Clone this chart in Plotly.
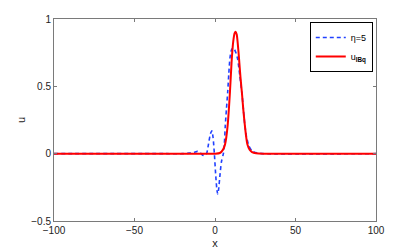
import plotly.graph_objects as go

# Values
x_blue = [-100, -30, -20, -16, -13, -10.9, -9.2, -8, -6.8, -5.8, -5.2, -4.2, -3.0, -2.0,
          -1.2, -0.4, 0.5, 1.2, 1.7, 2.3, 3.0, 4.0, 5.2, 5.8, 6.4, 7.1, 7.9, 8.6, 9.3,
          10.2, 11.1, 12.0, 13.0, 14.1, 15.4, 16.8, 17.7, 18.5, 19.5, 21.0, 23.0, 26.0, 30.0, 100]
y_blue = [0, 0, 0, 0.004, 0.01, 0.017, 0.006, -0.008, -0.013, -0.006, 0.0, 0.06, 0.14, 0.17,
          0.12, 0.0, -0.17, -0.27, -0.30, -0.26, -0.17, -0.06, 0.0, 0.07, 0.21, 0.33, 0.46, 0.60, 0.71,
          0.77, 0.785, 0.775, 0.75, 0.70, 0.58, 0.44, 0.32, 0.215, 0.13, 0.06, 0.02, 0.006, 0.0, 0]

x_red = [-100, -10, 0, 3, 5, 6.2, 7, 7.9, 9.3, 10.3, 11.3, 12.2, 12.8, 13.5, 14.2, 14.9,
         15.8, 16.8, 17.7, 18.5, 19.3, 20.1, 21.5, 23.0, 25.5, 30, 100]
y_red = [0, 0, 0, 0.005, 0.03, 0.067, 0.12, 0.215, 0.46, 0.68, 0.83, 0.895, 0.905, 0.885, 0.81, 0.71,
         0.57, 0.44, 0.31, 0.215, 0.13, 0.07, 0.03, 0.012, 0.003, 0, 0]

x_ticks = [-100, -50, 0, 50, 100]
y_ticks = [-0.5, 0, 0.5, 1]

FONT = "Liberation Sans, Arial"

fig = go.Figure()
fig.add_trace(go.Scatter(x=x_blue, y=y_blue, mode="lines", name="η=5",
                         line=dict(color="#2040ff", width=1.6, dash="4px,3px", shape="spline", smoothing=0.6)))
fig.add_trace(go.Scatter(x=x_red, y=y_red, mode="lines", name="u<sub><b>IBq</b></sub>",
                         line=dict(color="#ff0000", width=2, shape="spline", smoothing=0.6)))

axis_common = dict(showgrid=False, zeroline=False, showline=True, linecolor="#7a7a7a", linewidth=1,
                   mirror="ticks", ticks="inside", ticklen=3, tickcolor="#7a7a7a", automargin=False,
                   tickfont=dict(family=FONT, size=10, color="#222"))
fig.update_xaxes(range=[-100, 100], tickvals=x_ticks, **axis_common,
                 title=dict(text="x", font=dict(family=FONT, size=11, color="#222"), standoff=5))
fig.update_yaxes(range=[-0.5, 1], tickvals=y_ticks, **axis_common,
                 title=dict(text="u", font=dict(family=FONT, size=11, color="#222"), standoff=3))

fig.update_layout(
    width=415, height=249,
    margin=dict(l=54, r=39, t=19, b=28),
    paper_bgcolor="white", plot_bgcolor="white",
    showlegend=True,
    legend=dict(x=0.99, y=0.985, xanchor="right", yanchor="top",
                bgcolor="white", bordercolor="#000", borderwidth=1,
                font=dict(family=FONT, size=9, color="#000"),
                tracegroupgap=0, itemwidth=30),
)

fig.write_html("out.html", config={"displayModeBar": False},
               post_script="document.body.style.margin='0';document.body.style.overflow='hidden';")
